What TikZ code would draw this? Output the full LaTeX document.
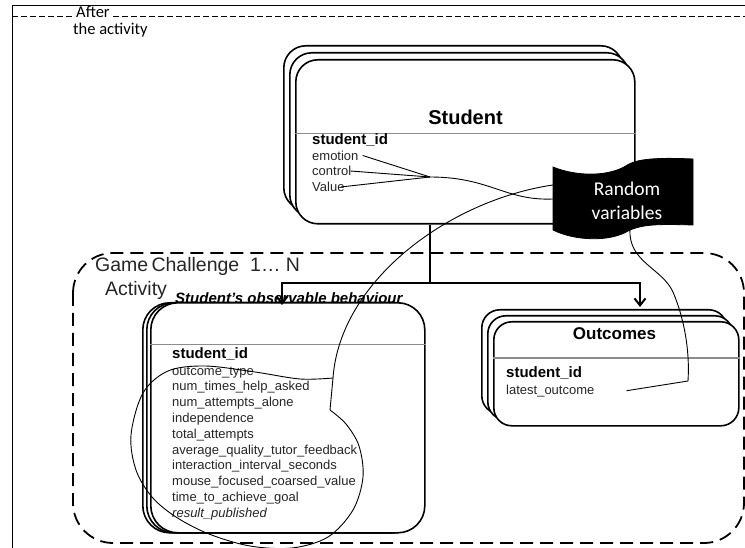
\documentclass[tikz,border=0pt]{standalone}
\usepackage{fontspec}
\setmainfont{Liberation Sans}
\newfontfamily\calfont{Carlito}
\usetikzlibrary{arrows.meta}
\begin{document}
\begin{tikzpicture}[x=1pt,y=-1pt,
  boxline/.style={draw=black,line width=1.6pt,fill=white,inner sep=0pt,anchor=north west},
  sepline/.style={draw=black!45,line width=1pt},
  thinline/.style={draw=black,line width=0.9pt},
  conn/.style={draw=black,line width=2.6pt},
  arr/.style={-{Straight Barb[length=7pt,width=11pt,line width=2pt]}},
  attr/.style={anchor=mid west,inner sep=0pt,font=\fontsize{13}{15}\selectfont,text=black!85},
  idtxt/.style={anchor=mid west,inner sep=0pt,font=\fontsize{15}{17}\selectfont\bfseries},
  caltxt/.style={anchor=mid west,inner sep=0pt,font=\calfont\fontsize{16.5}{19}\selectfont},
  arialbig/.style={anchor=mid west,inner sep=0pt,font=\fontsize{19.5}{22}\selectfont,text=black!85},
]
\useasboundingbox (0,0) rectangle (745,548);

% outer frame
\draw[line width=0.9pt] (745,5) -- (12,5) -- (12,548);
\draw[line width=0.9pt,dash pattern=on 6pt off 3pt] (12,16) -- (74,16) (113,16) -- (745,16);
\node[caltxt] (after) at (76,14.5) {After};
\node[caltxt] (theact) at (73,32) {the activity};

% game challenge dashed box
\draw[line width=1.8pt,dash pattern=on 13pt off 7pt,rounded corners=40pt] (73,253) rectangle (744,543);
\node[arialbig] (gc) at (95,268.5) {Game\,Challenge\ \ 1\ldots\ N};
\node[arialbig] (act) at (105,292.5) {Activity};

% Student box stack
\node[boxline,rounded corners=22pt,minimum width=339pt,minimum height=164pt] (stuC) at (283,45) {};
\node[boxline,rounded corners=22pt,minimum width=339pt,minimum height=164pt] (stuB) at (289,52) {};
\node[boxline,rounded corners=22pt,minimum width=339pt,minimum height=164pt] (student) at (295,59) {};
\draw[sepline] (student.west |- 0,134) -- (student.east |- 0,134);
\node[anchor=base,inner sep=0pt,font=\fontsize{20}{24}\selectfont\bfseries] (stutitle) at (465.5,125) {Student};
\node[idtxt] (sid) at (312,141.5) {student\_id};
\node[attr] (emo) at (312,157.5) {emotion};
\node[attr] (ctl) at (312,173) {control};
\node[attr] (val) at (312,189) {Value};

% Observable behaviour box stack
\node[boxline,rounded corners=27pt,minimum width=274pt,minimum height=230pt] (obsC) at (142,302) {};
\node[boxline,rounded corners=27pt,minimum width=274pt,minimum height=230pt] (obsB) at (146,302) {};
\node[boxline,rounded corners=27pt,minimum width=274pt,minimum height=230pt] (obs) at (150,302) {};
\draw[sepline] (obs.west |- 0,345) -- (obs.east |- 0,345);
\node[anchor=mid west,inner sep=0pt,font=\fontsize{15}{17}\selectfont\bfseries\itshape] (obstitle) at (175,301) {Student’s observable behaviour};
\node[idtxt] (oid) at (172,356) {student\_id};
\node[attr] (a1) at (172,372.5) {outcome\_type};
\node[attr] (a2) at (172,388.3) {num\_times\_help\_asked};
\node[attr] (a3) at (172,404.1) {num\_attempts\_alone};
\node[attr] (a4) at (172,419.9) {independence};
\node[attr] (a5) at (172,435.7) {total\_attempts};
\node[attr] (a6) at (172,451.5) {average\_quality\_tutor\_feedback};
\node[attr] (a7) at (172,467.3) {interaction\_interval\_seconds};
\node[attr] (a8) at (172,483.1) {mouse\_focused\_coarsed\_value};
\node[attr] (a9) at (172,498.9) {time\_to\_achieve\_goal};
\node[attr,font=\fontsize{13}{15}\selectfont\itshape] (a10) at (172,514.7) {result\_published};

% Outcomes box stack
\node[boxline,rounded corners=18pt,minimum width=245pt,minimum height=104pt] (outC) at (481,309) {};
\node[boxline,rounded corners=18pt,minimum width=245pt,minimum height=104pt] (outB) at (487,315) {};
\node[boxline,rounded corners=18pt,minimum width=245pt,minimum height=104pt] (out) at (493,321) {};
\draw[sepline] (out.west |- 0,358) -- (out.east |- 0,358);
\node[anchor=base,inner sep=0pt,font=\fontsize{17}{20}\selectfont\bfseries] (outtitle) at (614.5,340) {Outcomes};
\node[idtxt] (outid) at (506,375) {student\_id};
\node[attr] (latest) at (506,391.5) {latest\_outcome};

% connectors
\coordinate (trunk) at (430,283);
\coordinate (jL) at (282,283);
\coordinate (jR) at (640,283);
\draw[conn] (student.south -| trunk) -- (trunk);
\draw[conn,arr] (trunk) -- (jL) -- (jL |- 0,305);
\draw[conn,arr] (trunk) -- (jR) -- (jR |- 0,307);

% Random variables flag
\draw[fill=black,draw=black,line width=0.8pt] (553,167) .. controls (575,176) and (605,177) .. (624,167)
  .. controls (634,160) and (648,157) .. (693,159) -- (693,225)
  .. controls (660,224) and (642,224) .. (628,231)
  .. controls (610,242) and (575,241) .. (553,230) -- cycle;
\node[align=center,inner sep=0pt,text=white,font=\calfont\fontsize{19.5}{24}\selectfont] (rv) at (627,200.5) {Random\\variables};
\coordinate (flagA) at (553,185);
\coordinate (flagB) at (553,199);
\coordinate (flagC) at (630,229);

% attribute links
\coordinate (conv) at (430,177);
\draw[thinline] ([xshift=4pt]emo.east) -- (conv);
\draw[thinline] ([xshift=-1pt]ctl.east) -- (conv);
\draw[thinline] ([xshift=-4pt]val.east) -- (conv);
\draw[thinline] (conv) .. controls (490,177) and (505,201) .. (flagB);

% long curve and loop
\coordinate (k1) at (333,378);
\coordinate (k2) at (330,410);
\draw[thinline] (flagA) .. controls (450,200) and (340,280) .. (k1);
\draw[thinline] plot[smooth,tension=0.55] coordinates {(333,378) (300,379) (255,372) (205,366) (168,371) (143,393) (131,435) (136,470) (152,497) (176,517) (209,534) (250,546) (292,548) (328,537) (353,510) (363,477) (359,446) (346,424) (330,410)};
\draw[thinline] (k2) -- (k1);

% outcome link
\draw[thinline] (flagC) .. controls (628,262) and (662,268) .. (673,292)
  .. controls (684,318) and (690,350) .. (688,381) -- ([xshift=32pt]latest.east);

\end{tikzpicture}
\end{document}
